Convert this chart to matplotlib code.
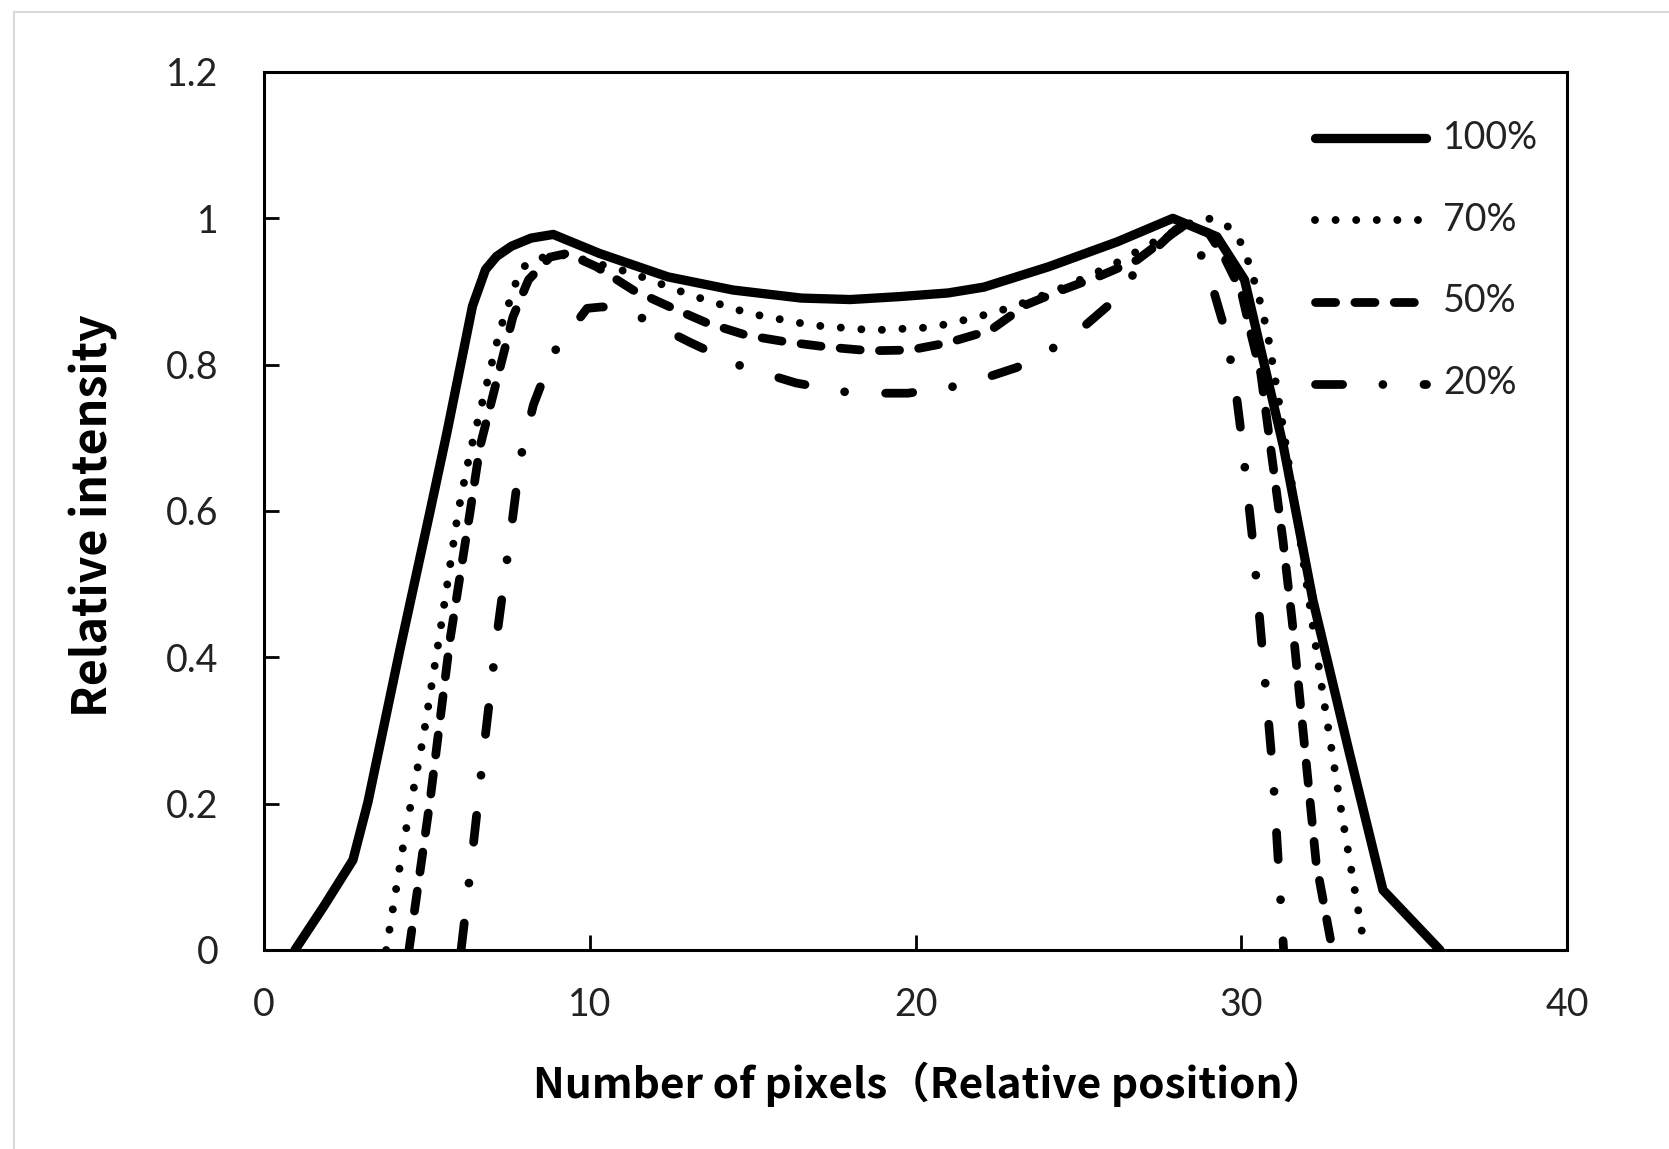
import matplotlib
matplotlib.use("Agg")
import matplotlib.pyplot as plt
from matplotlib.lines import Line2D

# ---------------- data ----------------
x_100 = [0.95, 1.84, 2.73, 3.19, 4.17, 5.1, 5.61, 6.4, 6.8, 7.14, 7.6, 8.2, 8.88, 10.3, 12.4, 14.4,
         16.5, 18.0, 19.5, 21.0, 22.1, 24.1, 26.2, 27.9, 29.25, 30.1, 31.3, 32.2, 33.3, 34.35, 36.1]
y_100 = [0.0, 0.06, 0.123, 0.202, 0.41, 0.60, 0.706, 0.88, 0.93, 0.948, 0.962, 0.973, 0.978, 0.952, 0.92, 0.902,
         0.891, 0.889, 0.893, 0.898, 0.906, 0.934, 0.968, 1.0, 0.975, 0.916, 0.687, 0.478, 0.273, 0.082, 0.0]

x_70 = [3.75, 4.3, 4.89, 5.4, 5.96, 6.32, 7.24, 7.86, 8.27, 9.3, 11.3, 13.1, 14.9, 16.8, 18.7, 20.5,
        21.8, 23.0, 24.5, 26.0, 27.5, 28.5, 28.9, 29.3, 29.8, 30.1, 30.5, 30.8, 31.2, 31.6, 32.5, 33.1, 33.8]
y_70 = [0.0, 0.15, 0.291, 0.433, 0.599, 0.679, 0.847, 0.929, 0.945, 0.95, 0.925, 0.895, 0.87, 0.854, 0.847, 0.851,
        0.864, 0.879, 0.905, 0.935, 0.972, 0.995, 1.0, 0.998, 0.982, 0.957, 0.90, 0.845, 0.738, 0.624, 0.351, 0.182, 0.0]

x_50 = [4.45, 5.1, 5.71, 6.32, 6.63, 7.64, 8.12, 8.78, 9.3, 10.2, 11.33, 12.46, 13.6, 14.83, 16.05, 17.31,
        18.6, 19.83, 21.0, 22.3, 23.4, 24.5, 25.7, 26.8, 27.6, 28.3, 29.0, 29.5, 30.0, 30.3, 30.6, 30.94,
        31.28, 31.56, 32.3, 32.8]
y_50 = [0.0, 0.205, 0.424, 0.597, 0.688, 0.865, 0.916, 0.947, 0.952, 0.934, 0.902, 0.879, 0.857, 0.84, 0.831, 0.824,
        0.819, 0.82, 0.83, 0.847, 0.882, 0.902, 0.922, 0.943, 0.97, 0.992, 0.98, 0.945, 0.90, 0.842, 0.788, 0.674,
        0.56, 0.451, 0.119, 0.0]

x_20 = [6.05, 6.4, 6.78, 7.18, 7.64, 7.86, 8.27, 8.88, 9.92, 10.4, 11.5, 13.1, 14.7, 16.33, 18.06, 19.77,
        21.46, 23.1, 24.7, 26.0, 27.1, 28.0, 28.35, 28.94, 29.44, 29.78, 30.0, 30.37, 30.67, 30.97, 31.3]
y_20 = [0.0, 0.133, 0.287, 0.44, 0.593, 0.67, 0.745, 0.816, 0.877, 0.879, 0.866, 0.83, 0.797, 0.775, 0.761, 0.761,
        0.772, 0.796, 0.834, 0.884, 0.947, 0.985, 0.99, 0.933, 0.857, 0.783, 0.705, 0.552, 0.399, 0.244, 0.0]

labels = ["100%", "70%", "50%", "20%"]
x_ticks = [0, 10, 20, 30, 40]
y_ticks = [0, 0.2, 0.4, 0.6, 0.8, 1.0, 1.2]
y_tick_labels = ["0", "0.2", "0.4", "0.6", "0.8", "1", "1.2"]
x_label = "Number of pixels（Relative position）"
y_label = "Relative intensity"

# ---------------- figure ----------------
W, H = 1669, 1149
fig = plt.figure(figsize=(W / 100, H / 100), dpi=100)
fig.patch.set_facecolor("white")

# light frame of the chart area (top/left visible)
fig.add_artist(Line2D([14 / W, 1.0], [1 - 12 / H, 1 - 12 / H], transform=fig.transFigure,
                      color="#d9d9d9", lw=1.5))
fig.add_artist(Line2D([14 / W, 14 / W], [0.0, 1 - 12 / H], transform=fig.transFigure,
                      color="#d9d9d9", lw=1.5))

ax = fig.add_axes([264 / W, 1 - 950 / H, (1567 - 264) / W, (950 - 72) / H])

lw = 6.3
ax.plot(x_100, y_100, color="black", lw=lw + 0.4, solid_capstyle="round", solid_joinstyle="round",
        label=labels[0])
ax.plot(x_70, y_70, color="black", lw=lw - 0.6, linestyle=(0, (0.001, 2.6)), dash_capstyle="round",
        label=labels[1])
ax.plot(x_50, y_50, color="black", lw=lw, linestyle=(0, (2.3, 2.2)), dash_capstyle="round",
        label=labels[2])
ax.plot(x_20, y_20, color="black", lw=lw, linestyle=(0, (3.1, 4.6, 0.001, 4.7)), dash_capstyle="round",
        label=labels[3])

ax.set_xlim(0, 40)
ax.set_ylim(0, 1.2)
ax.set_xticks(x_ticks)
ax.set_xticklabels([str(v) for v in x_ticks])
ax.set_yticks(y_ticks)
ax.set_yticklabels(y_tick_labels)

for sp in ax.spines.values():
    sp.set_linewidth(2.2)
    sp.set_color("black")

tick_font = "Lato"
ax.tick_params(axis="both", direction="in", length=10.5, width=2.0, colors="black",
               labelsize=27)
ax.tick_params(axis="y", pad=33)
ax.tick_params(axis="x", pad=27)
for t in ax.get_xticklabels() + ax.get_yticklabels():
    t.set_fontfamily(tick_font)
    t.set_color("#222222")

lab_font = ["Noto Sans CJK JP", "DejaVu Sans"]
fig.text(929 / W, 1 - 1084 / H, x_label, ha="center", va="center", fontsize=30.5,
         fontweight="bold", family=lab_font)
fig.text(94 / W, 1 - 516 / H, y_label, ha="center", va="center", rotation=90, fontsize=33.5,
         fontweight="bold", family=lab_font)

leg = ax.legend(loc="upper left", bbox_to_anchor=(0.7945, 0.963), frameon=False, borderpad=0,
                handlelength=3.65, handletextpad=0.55, labelspacing=1.5,
                prop={"family": tick_font, "size": 22})
for t in leg.get_texts():
    t.set_fontsize(27)
    t.set_color("#222222")

fig.savefig("out.png", dpi=100, facecolor="white")
